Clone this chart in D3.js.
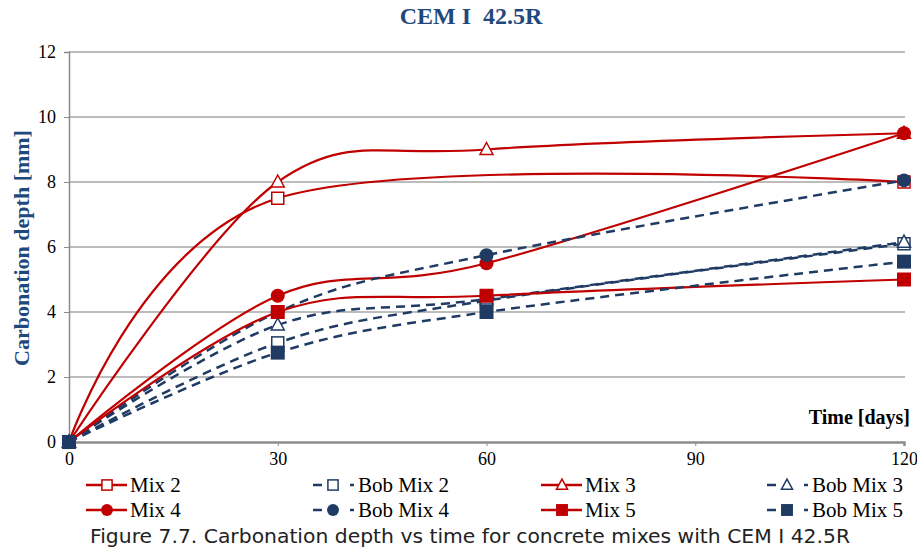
<!DOCTYPE html>
<html>
<head>
<meta charset="utf-8">
<script src="https://cdn.jsdelivr.net/npm/d3@7"></script>
<style>
  html, body { margin: 0; padding: 0; background: #fff; }
  svg { display: block; }
</style>
</head>
<body>
<svg id="chart" width="917" height="550"></svg>
<script>
// Carbonation depth (mm) measured at each age (days); null = not measured
const days = [0, 30, 60, 120];
const mix2    = [0, 7.5, null, 8.0];
const bobMix2 = [0, 3.05, 4.35, 6.1];
const mix3    = [0, 8.0, 9.0, 9.5];
const bobMix3 = [0, 3.6, 4.4, 6.15];
const mix4    = [0, 4.5, 5.5, 9.5];
const bobMix4 = [0, 4.0, 5.75, 8.05];
const mix5    = [0, 4.0, 4.5, 5.0];
const bobMix5 = [0, 2.75, 4.0, 5.55];

const xTicks = [0, 30, 60, 90, 120];
const yTicks = [0, 2, 4, 6, 8, 10, 12];

const seriesNames = ["Mix 2", "Bob Mix 2", "Mix 3", "Bob Mix 3", "Mix 4", "Bob Mix 4", "Mix 5", "Bob Mix 5"];
const seriesValues = [mix2, bobMix2, mix3, bobMix3, mix4, bobMix4, mix5, bobMix5];
const seriesMarkers = ["squareOpen", "squareOpen", "triangleOpen", "triangleOpen", "circle", "circle", "square", "square"];

const RED = "#c00000";
const NAVY = "#1f3b63";

const series = seriesNames.map((name, i) => ({
  name,
  marker: seriesMarkers[i],
  bob: name.startsWith("Bob"),
  color: name.startsWith("Bob") ? NAVY : RED,
  points: days.map((d, j) => ({ day: d, value: seriesValues[i][j] })).filter(p => p.value !== null)
}));

const svg = d3.select("#chart");
const x = d3.scaleLinear().domain([0, 120]).range([69, 904]);
const y = d3.scaleLinear().domain([0, 12]).range([442, 52]);

// Title
svg.append("text")
  .attr("x", 471).attr("y", 24)
  .attr("text-anchor", "middle")
  .attr("font-family", "'Liberation Serif', serif")
  .attr("font-weight", "bold")
  .attr("font-size", 24)
  .attr("fill", "#1f497d")
  .attr("xml:space", "preserve")
  .text("CEM I  42.5R");

// Horizontal gridlines
svg.append("g")
  .selectAll("line")
  .data(yTicks.filter(t => t > 0))
  .join("line")
  .attr("x1", x(0)).attr("x2", 905)
  .attr("y1", d => y(d)).attr("y2", d => y(d))
  .attr("stroke", "#a6a6a6")
  .attr("stroke-width", 1.5);

// Y axis
const yAxis = svg.append("g")
  .attr("transform", `translate(${x(0)},0)`)
  .call(d3.axisLeft(y).tickValues(yTicks).tickSize(5).tickPadding(8).tickFormat(d3.format("d")));
yAxis.select(".domain").attr("stroke", "#8c8c8c").attr("stroke-width", 1.5);
yAxis.selectAll(".tick line").attr("stroke", "#8c8c8c").attr("stroke-width", 1);
yAxis.selectAll("text")
  .attr("font-family", "'Liberation Serif', serif")
  .attr("font-size", 18)
  .attr("fill", "#000");

// X axis
const xAxis = svg.append("g")
  .attr("transform", `translate(0,${y(0)})`)
  .call(d3.axisBottom(x).tickValues(xTicks).tickSize(4).tickPadding(6).tickFormat(d3.format("d")));
xAxis.select(".domain").attr("stroke", "#8c8c8c").attr("stroke-width", 2.5);
xAxis.selectAll(".tick line").attr("stroke", "#8c8c8c").attr("stroke-width", 1);
xAxis.selectAll("text")
  .attr("font-family", "'Liberation Serif', serif")
  .attr("font-size", 18)
  .attr("fill", "#000");

// Axis titles
svg.append("text")
  .attr("transform", "translate(29,248) rotate(-90)")
  .attr("text-anchor", "middle")
  .attr("font-family", "'Liberation Serif', serif")
  .attr("font-weight", "bold")
  .attr("font-size", 22)
  .attr("fill", "#1f497d")
  .text("Carbonation depth [mm]");

svg.append("text")
  .attr("x", 910).attr("y", 424)
  .attr("text-anchor", "end")
  .attr("font-family", "'Liberation Serif', serif")
  .attr("font-weight", "bold")
  .attr("font-size", 20)
  .attr("fill", "#000")
  .text("Time [days]");

// Marker drawing helper (k scales the marker size)
function drawMarker(g, type, color, cx, cy, k = 1) {
  if (type === "circle") {
    g.append("circle").attr("cx", cx).attr("cy", cy).attr("r", 7 * k).attr("fill", color);
  } else if (type === "square") {
    const h = 7 * k;
    g.append("rect").attr("x", cx - h).attr("y", cy - h).attr("width", 2 * h).attr("height", 2 * h).attr("fill", color);
  } else if (type === "squareOpen") {
    const h = 6 * k;
    g.append("rect").attr("x", cx - h).attr("y", cy - h).attr("width", 2 * h).attr("height", 2 * h)
      .attr("fill", "#fff").attr("stroke", color).attr("stroke-width", 1.5);
  } else if (type === "triangleOpen") {
    g.append("path")
      .attr("d", `M${cx},${cy - 7 * k}L${cx + 6.5 * k},${cy + 5 * k}L${cx - 6.5 * k},${cy + 5 * k}Z`)
      .attr("fill", "#fff").attr("stroke", color).attr("stroke-width", 1.5);
  }
}

const line = d3.line()
  .x(d => x(d.day))
  .y(d => y(d.value))
  .curve(d3.curveCatmullRom.alpha(0));

// Series: line then markers, in series order
const plot = svg.append("g");
series.forEach(s => {
  const g = plot.append("g");
  g.append("path")
    .datum(s.points)
    .attr("d", line)
    .attr("fill", "none")
    .attr("stroke", s.color)
    .attr("stroke-width", s.bob ? 2.5 : 2.2)
    .attr("stroke-dasharray", s.bob ? "9,6" : null);
  s.points.forEach(p => drawMarker(g, s.marker, s.color, x(p.day), y(p.value)));
});

// Legend: 4 columns x 2 rows
const legendCols = [86, 313, 541, 767];
const legendRows = [485, 510];
const legend = svg.append("g");
series.forEach((s, i) => {
  const lx = legendCols[i % 4];
  const ly = legendRows[Math.floor(i / 4)];
  const g = legend.append("g");
  if (s.bob) {
    g.append("line").attr("x1", lx).attr("x2", lx + 9).attr("y1", ly).attr("y2", ly)
      .attr("stroke", s.color).attr("stroke-width", 2.5);
    g.append("line").attr("x1", lx + 37).attr("x2", lx + 41).attr("y1", ly).attr("y2", ly)
      .attr("stroke", s.color).attr("stroke-width", 2.5);
    drawMarker(g, s.marker, s.color, lx + 20, ly, 0.85);
    g.append("text")
      .attr("x", lx + 45).attr("y", ly + 7)
      .attr("font-family", "'Liberation Serif', serif")
      .attr("font-size", 21)
      .attr("fill", "#000")
      .text(s.name);
  } else {
    g.append("line").attr("x1", lx).attr("x2", lx + 41).attr("y1", ly).attr("y2", ly)
      .attr("stroke", s.color).attr("stroke-width", 2.5);
    drawMarker(g, s.marker, s.color, lx + 21, ly, 0.85);
    g.append("text")
      .attr("x", lx + 44).attr("y", ly + 7)
      .attr("font-family", "'Liberation Serif', serif")
      .attr("font-size", 21)
      .attr("fill", "#000")
      .text(s.name);
  }
});

// Caption
svg.append("text")
  .attr("x", 90).attr("y", 543)
  .attr("font-family", "'DejaVu Sans', Verdana, sans-serif")
  .attr("font-size", 20)
  .attr("textLength", 760)
  .attr("lengthAdjust", "spacingAndGlyphs")
  .attr("fill", "#222")
  .text("Figure 7.7. Carbonation depth vs time for concrete mixes with CEM I 42.5R");
</script>
</body>
</html>
